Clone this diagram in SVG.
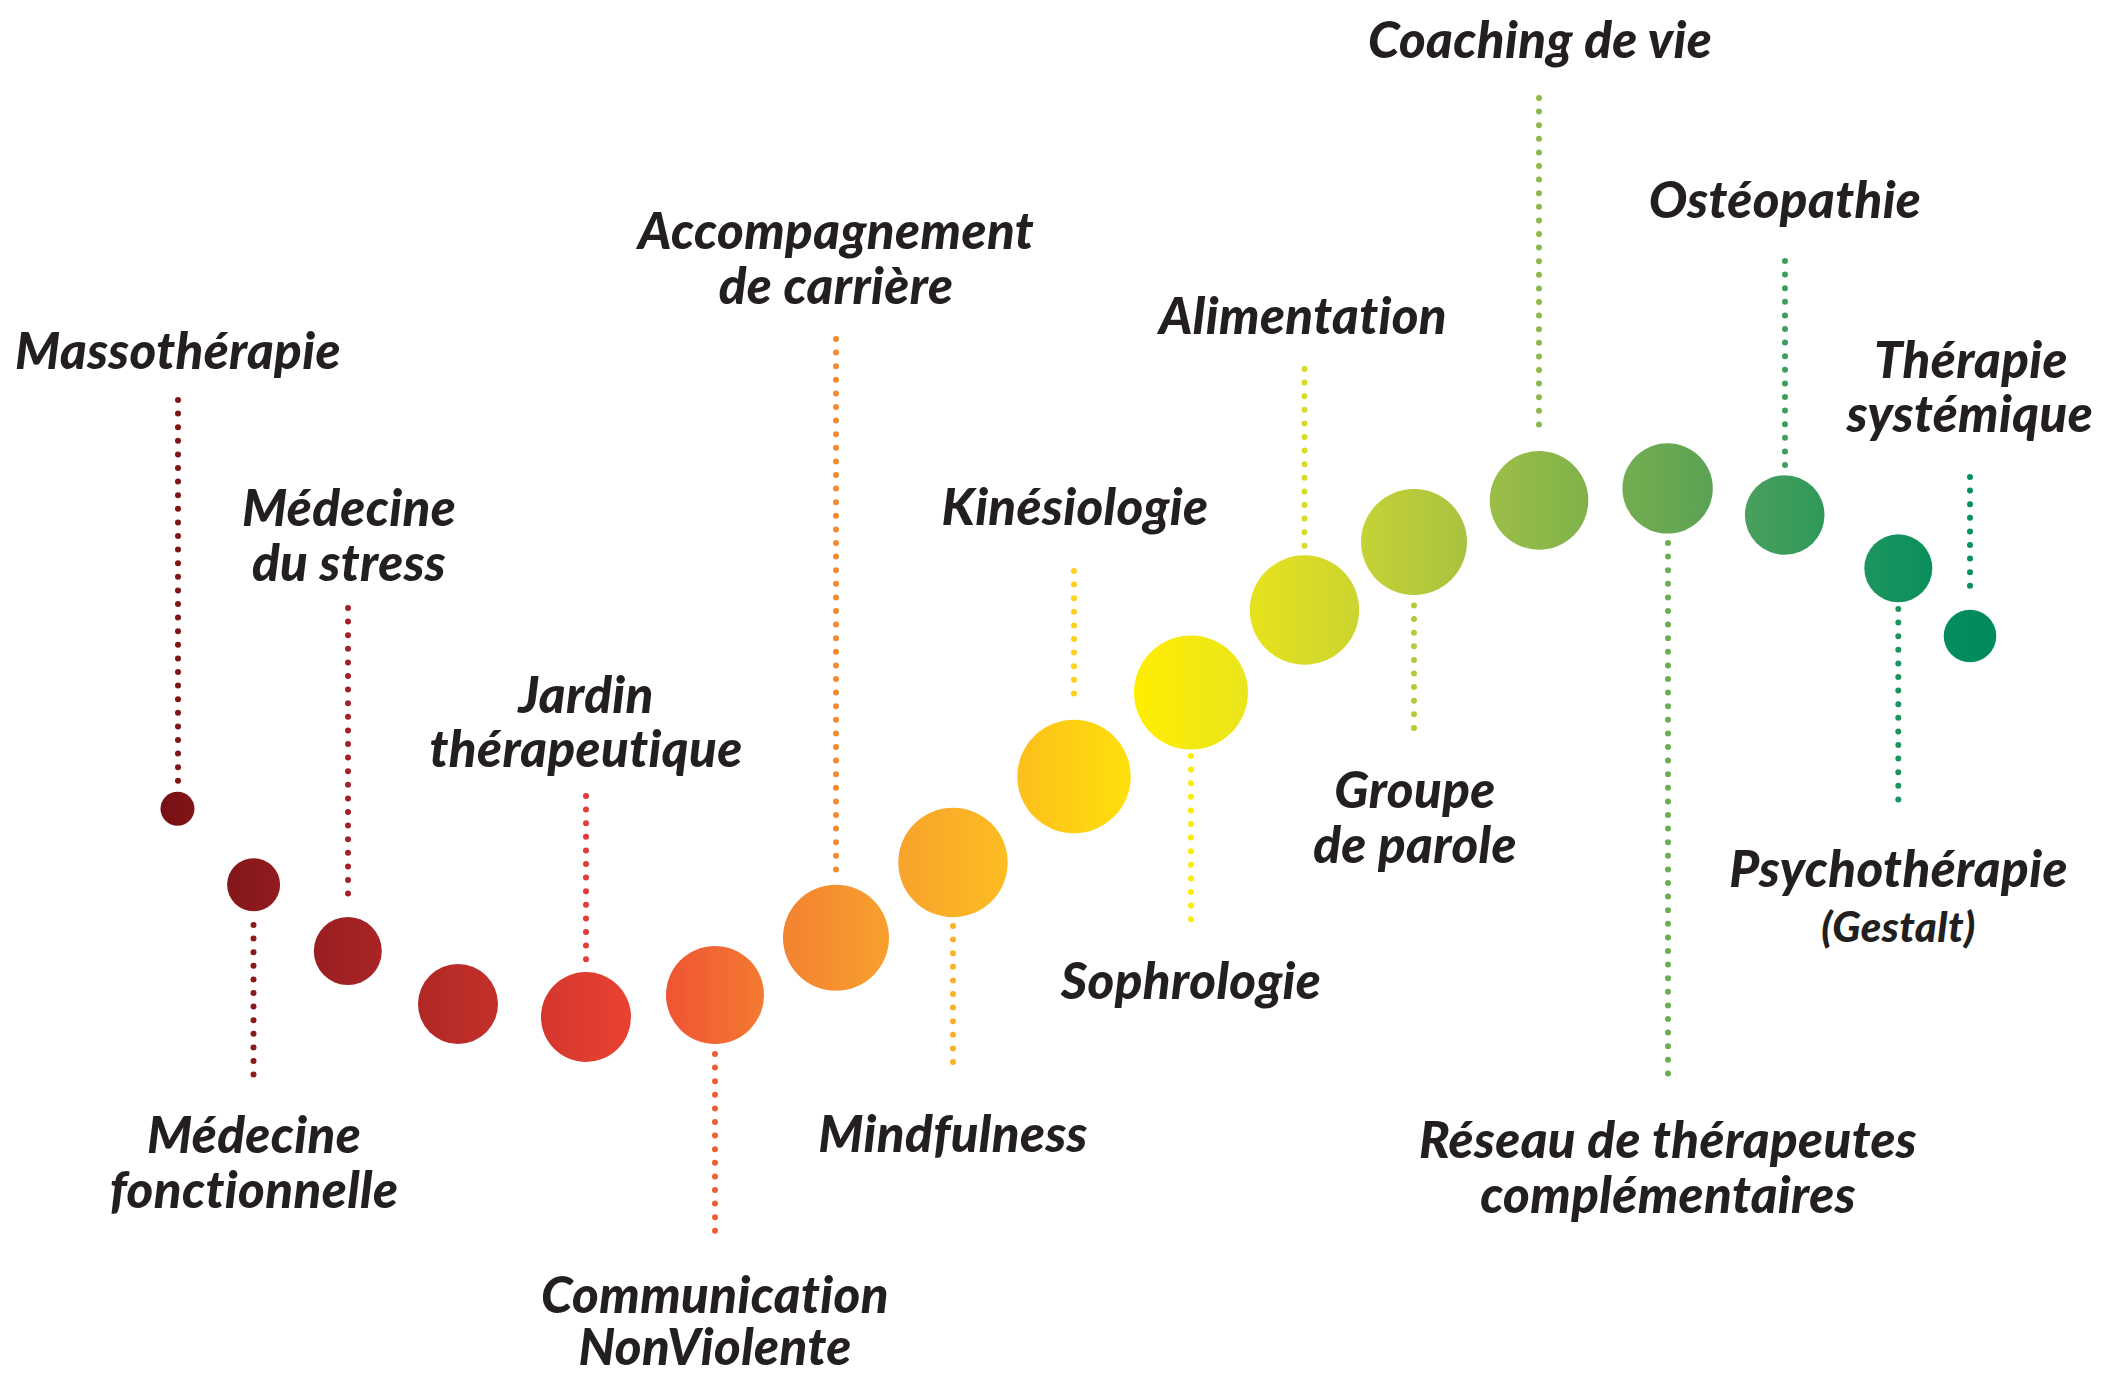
<svg xmlns="http://www.w3.org/2000/svg" width="2120" height="1373" viewBox="0 0 2120 1373">
<style>
.t{font-family:Lato,"Open Sans","Liberation Sans",sans-serif;font-weight:900;font-style:italic;font-size:51px;letter-spacing:0.4px;fill:#231f20;text-anchor:middle}
.s{font-size:42px}
.d{fill:none;stroke-width:6;stroke-linecap:round;stroke-dasharray:0 13.6}
</style>
<defs>
<linearGradient id="g1"><stop offset="0" stop-color="#761015"/><stop offset="1" stop-color="#821417"/></linearGradient>
<linearGradient id="g2"><stop offset="0" stop-color="#83171a"/><stop offset="1" stop-color="#911b1e"/></linearGradient>
<linearGradient id="g3"><stop offset="0" stop-color="#981e20"/><stop offset="1" stop-color="#a92426"/></linearGradient>
<linearGradient id="g4"><stop offset="0" stop-color="#b02825"/><stop offset="1" stop-color="#c4302a"/></linearGradient>
<linearGradient id="g5"><stop offset="0" stop-color="#d4362e"/><stop offset="1" stop-color="#e94231"/></linearGradient>
<linearGradient id="g6"><stop offset="0" stop-color="#ef5433"/><stop offset="1" stop-color="#f47b31"/></linearGradient>
<linearGradient id="g7"><stop offset="0" stop-color="#f38231"/><stop offset="1" stop-color="#f8a02d"/></linearGradient>
<linearGradient id="g8"><stop offset="0" stop-color="#f8a22d"/><stop offset="1" stop-color="#fdbd22"/></linearGradient>
<linearGradient id="g9"><stop offset="0" stop-color="#fdbf1c"/><stop offset="1" stop-color="#fee00b"/></linearGradient>
<linearGradient id="g10"><stop offset="0" stop-color="#ffee00"/><stop offset="1" stop-color="#eae51d"/></linearGradient>
<linearGradient id="g11"><stop offset="0" stop-color="#e7e21c"/><stop offset="1" stop-color="#cbd531"/></linearGradient>
<linearGradient id="g12"><stop offset="0" stop-color="#c6d236"/><stop offset="1" stop-color="#a8c240"/></linearGradient>
<linearGradient id="g13"><stop offset="0" stop-color="#9cbe47"/><stop offset="1" stop-color="#80b24a"/></linearGradient>
<linearGradient id="g14"><stop offset="0" stop-color="#73ae50"/><stop offset="1" stop-color="#5ba255"/></linearGradient>
<linearGradient id="g15"><stop offset="0" stop-color="#4aa05c"/><stop offset="1" stop-color="#2e995a"/></linearGradient>
<linearGradient id="g16"><stop offset="0" stop-color="#1d955d"/><stop offset="1" stop-color="#0a8f5d"/></linearGradient>
<linearGradient id="g17"><stop offset="0" stop-color="#068c5f"/><stop offset="1" stop-color="#008a5e"/></linearGradient>
</defs>

<g id="connectors">
<line class="d" x1="178" y1="400" x2="178" y2="781" stroke="#7d1416"/>
<line class="d" x1="253.5" y1="925" x2="253.5" y2="1075" stroke="#8a1a1c"/>
<line class="d" x1="348" y1="608" x2="348" y2="907" stroke="#a32226"/>
<line class="d" x1="586" y1="796" x2="586" y2="960" stroke="#e23d34"/>
<line class="d" x1="715" y1="1054" x2="715" y2="1231" stroke="#f06032"/>
<line class="d" x1="836" y1="339" x2="836" y2="870" stroke="#f58a2f"/>
<line class="d" x1="953" y1="926" x2="953" y2="1075" stroke="#fbb02a"/>
<line class="d" x1="1074" y1="571" x2="1074" y2="707" stroke="#fcd21c"/>
<line class="d" x1="1191" y1="756" x2="1191" y2="932" stroke="#fbed00"/>
<line class="d" x1="1304.5" y1="369" x2="1304.5" y2="546" stroke="#d6dc2a"/>
<line class="d" x1="1414" y1="605.5" x2="1414" y2="741" stroke="#b4c93c"/>
<line class="d" x1="1539" y1="98" x2="1539" y2="438" stroke="#8cba48"/>
<line class="d" x1="1668" y1="543" x2="1668" y2="1074" stroke="#6aae51"/>
<line class="d" x1="1785" y1="261" x2="1785" y2="466" stroke="#3c9f5b"/>
<line class="d" x1="1898.3" y1="609" x2="1898.3" y2="813" stroke="#1a955d"/>
<line class="d" x1="1970" y1="477" x2="1970" y2="599" stroke="#069060"/>
</g>

<g id="n1"><circle cx="177.5" cy="808.7" r="17" fill="url(#g1)"/><text class="t" x="178" y="369">Massothérapie</text></g>
<g id="n2"><circle cx="253.6" cy="884.7" r="26.5" fill="url(#g2)"/><text class="t" x="254" y="1153">Médecine</text><text class="t" x="254" y="1208">fonctionnelle</text></g>
<g id="n3"><circle cx="347.8" cy="951" r="34" fill="url(#g3)"/><text class="t" x="349" y="525.5">Médecine</text><text class="t" x="349" y="580.6">du stress</text></g>
<g id="n4"><circle cx="458" cy="1004" r="40" fill="url(#g4)"/></g>
<g id="n5"><circle cx="586" cy="1017" r="45" fill="url(#g5)"/><text class="t" x="586" y="713">Jardin</text><text class="t" x="586" y="767">thérapeutique</text></g>
<g id="n6"><circle cx="715" cy="995" r="49" fill="url(#g6)"/><text class="t" x="715" y="1313">Communication</text><text class="t" x="715" y="1365">NonViolente</text></g>
<g id="n7"><circle cx="836" cy="937.7" r="53" fill="url(#g7)"/><text class="t" x="836" y="249">Accompagnement</text><text class="t" x="836" y="304">de carrière</text></g>
<g id="n8"><circle cx="953" cy="862.5" r="54.7" fill="url(#g8)"/><text class="t" x="953" y="1152">Mindfulness</text></g>
<g id="n9"><circle cx="1074" cy="776.5" r="56.7" fill="url(#g9)"/><text class="t" x="1075" y="525">Kinésiologie</text></g>
<g id="n10"><circle cx="1191" cy="692.5" r="57" fill="url(#g10)"/><text class="t" x="1191" y="999">Sophrologie</text></g>
<g id="n11"><circle cx="1304.5" cy="610" r="54.7" fill="url(#g11)"/><text class="t" x="1303" y="334">Alimentation</text></g>
<g id="n12"><circle cx="1414" cy="542" r="53" fill="url(#g12)"/><text class="t" x="1415" y="808">Groupe</text><text class="t" x="1415" y="862.5">de parole</text></g>
<g id="n13"><circle cx="1539" cy="500.4" r="49.3" fill="url(#g13)"/><text class="t" x="1540" y="58">Coaching de vie</text></g>
<g id="n14"><circle cx="1667.6" cy="488.4" r="45.2" fill="url(#g14)"/><text class="t" x="1668" y="1158">Réseau de thérapeutes</text><text class="t" x="1668" y="1213">complémentaires</text></g>
<g id="n15"><circle cx="1784.7" cy="515" r="39.8" fill="url(#g15)"/><text class="t" x="1785" y="218">Ostéopathie</text></g>
<g id="n16"><circle cx="1898.3" cy="568.3" r="34" fill="url(#g16)"/><text class="t" x="1898.5" y="887">Psychothérapie</text><text class="t s" x="1898.5" y="942">(Gestalt)</text></g>
<g id="n17"><circle cx="1970" cy="636" r="26.3" fill="url(#g17)"/><text class="t" x="1971" y="378">Thérapie</text><text class="t" x="1970" y="432">systémique</text></g>
</svg>
